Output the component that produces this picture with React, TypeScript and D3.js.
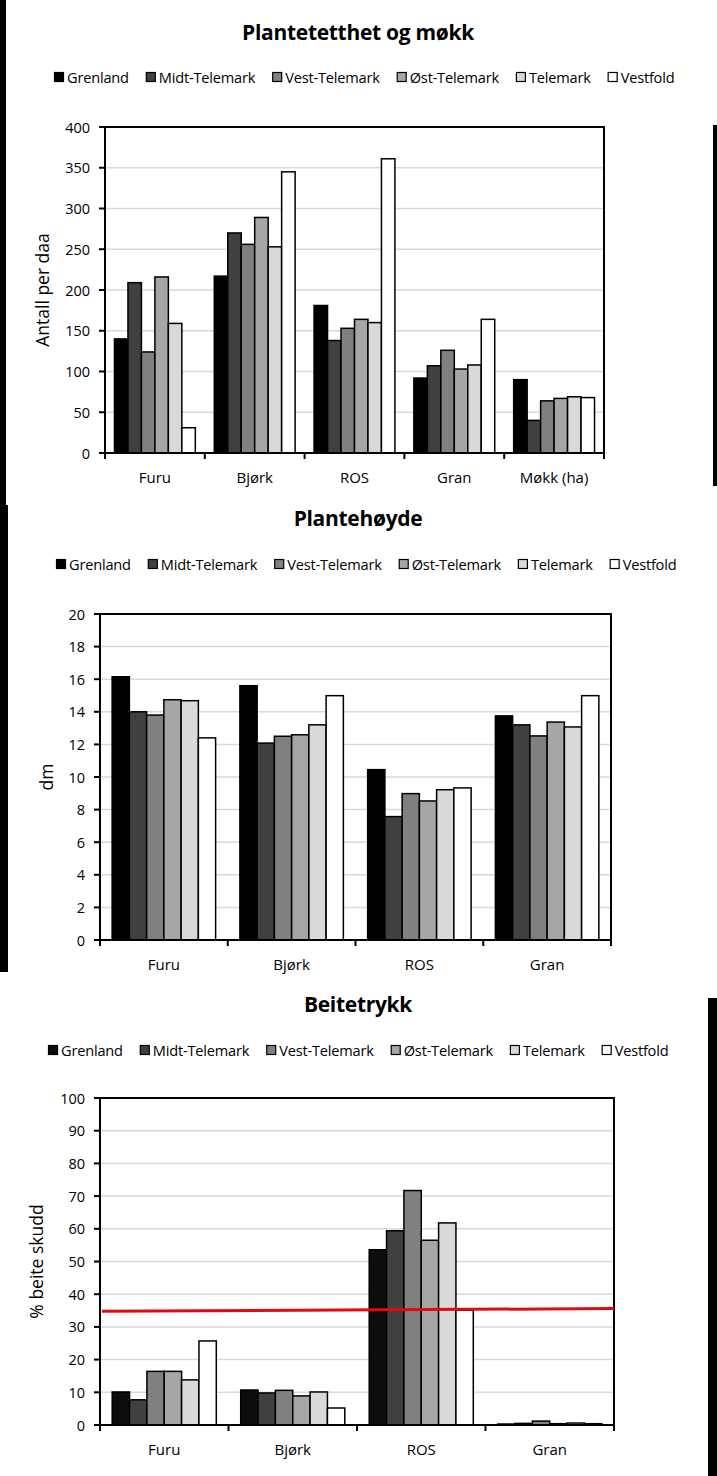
import React, { useEffect, useRef } from "react";
import * as d3 from "d3";

// ---------- data ----------
const seriesNames = ["Grenland", "Midt-Telemark", "Vest-Telemark", "Øst-Telemark", "Telemark", "Vestfold"];
const seriesColors = ["#000000", "#404040", "#808080", "#a6a6a6", "#d9d9d9", "#ffffff"];
const seriesColorsBeite = ["#0d0d0d", "#404040", "#808080", "#a6a6a6", "#d9d9d9", "#ffffff"];

const densityCategories = ["Furu", "Bjørk", "ROS", "Gran", "Møkk (ha)"];
const densityTicks = [0, 50, 100, 150, 200, 250, 300, 350, 400];
const densityGrenland = [140, 217, 181, 92, 90];
const densityMidt = [209, 270, 138, 107, 40];
const densityVest = [124, 256, 153, 126, 64];
const densityOst = [216, 289, 164, 103, 67];
const densityTelemark = [159, 253, 160, 108, 69];
const densityVestfold = [31, 345, 361, 164, 68];

const heightCategories = ["Furu", "Bjørk", "ROS", "Gran"];
const heightTicks = [0, 2, 4, 6, 8, 10, 12, 14, 16, 18, 20];
const heightGrenland = [16.15, 15.6, 10.45, 13.75];
const heightMidt = [14.0, 12.08, 7.57, 13.2];
const heightVest = [13.8, 12.5, 8.98, 12.52];
const heightOst = [14.74, 12.59, 8.53, 13.37];
const heightTelemark = [14.68, 13.2, 9.22, 13.07];
const heightVestfold = [12.4, 14.99, 9.33, 14.99];

const browseCategories = ["Furu", "Bjørk", "ROS", "Gran"];
const browseTicks = [0, 10, 20, 30, 40, 50, 60, 70, 80, 90, 100];
const browseGrenland = [10.1, 10.7, 53.6, 0.3];
const browseMidt = [7.7, 9.8, 59.4, 0.5];
const browseVest = [16.4, 10.6, 71.7, 1.2];
const browseOst = [16.4, 8.9, 56.5, 0.4];
const browseTelemark = [13.8, 10.1, 61.8, 0.6];
const browseVestfold = [25.7, 5.2, 35.1, 0.4];
const browseThreshold = [34.8, 35.6];

const FONT = "'Open Sans', 'DejaVu Sans', sans-serif";

type ChartCfg = {
  title: string;
  titleY: number;
  legendY: number;
  legendX: number;
  yLabel: string;
  yLabelX: number;
  left: number;
  right: number;
  top: number;
  bottom: number;
  max: number;
  ticks: number[];
  categories: string[];
  series: number[][];
  colors: string[];
  threshold?: number[];
};

function drawChart(svg: d3.Selection<SVGSVGElement, unknown, null, undefined>, c: ChartCfg) {
  const g = svg.append("g");
  g.append("text")
    .attr("x", 358)
    .attr("y", c.titleY)
    .attr("text-anchor", "middle")
    .attr("dominant-baseline", "central")
    .attr("font-family", FONT)
    .attr("font-weight", 700)
    .attr("font-size", 21)
    .attr("letter-spacing", -0.3)
    .attr("fill", "#000")
    .text(c.title);

  // legend
  let lx = c.legendX;
  seriesNames.forEach((name, i) => {
    g.append("rect")
      .attr("x", lx + 0.5)
      .attr("y", c.legendY - 4.5)
      .attr("width", 9)
      .attr("height", 9)
      .attr("fill", c.colors[i])
      .attr("stroke", "#000")
      .attr("stroke-width", 1.2);
    const t = g.append("text")
      .attr("x", lx + 13)
      .attr("y", c.legendY)
      .attr("dominant-baseline", "central")
      .attr("font-family", FONT)
      .attr("font-size", 14.6)
      .attr("letter-spacing", -0.2)
      .attr("fill", "#000")
      .text(name);
    const w = (t.node() as SVGTextElement).getComputedTextLength();
    lx += 13 + w + 17;
  });

  const y = d3.scaleLinear().domain([0, c.max]).range([c.bottom, c.top]);
  const x0 = d3.scaleBand<string>().domain(c.categories).range([c.left, c.right]).padding(0);
  const bw = x0.bandwidth();
  const x1 = d3.scaleBand<string>().domain(seriesNames).range([bw * 0.095, bw * 0.905]).padding(0);

  // gridlines
  g.append("g")
    .selectAll("line")
    .data(c.ticks.filter((t) => t > 0 && t < c.max))
    .join("line")
    .attr("x1", c.left)
    .attr("x2", c.right)
    .attr("y1", (d) => y(d))
    .attr("y2", (d) => y(d))
    .attr("stroke", "#d9d9d9")
    .attr("stroke-width", 1.5);

  // bars
  c.categories.forEach((cat, ci) => {
    seriesNames.forEach((s, si) => {
      const v = c.series[si][ci];
      g.append("rect")
        .attr("x", (x0(cat) as number) + (x1(s) as number))
        .attr("y", y(v))
        .attr("width", x1.bandwidth())
        .attr("height", c.bottom - y(v))
        .attr("fill", c.colors[si])
        .attr("stroke", "#000")
        .attr("stroke-width", 1.5);
    });
  });

  // frame
  g.append("rect")
    .attr("x", c.left)
    .attr("y", c.top)
    .attr("width", c.right - c.left)
    .attr("height", c.bottom - c.top)
    .attr("fill", "none")
    .attr("stroke", "#000")
    .attr("stroke-width", 2);

  // threshold
  if (c.threshold) {
    const tx = d3.scaleLinear().domain([0, c.threshold.length - 1]).range([c.left + 2, c.right]);
    const line = d3.line<number>().x((_, i) => tx(i)).y((d) => y(d));
    g.append("path")
      .attr("d", line(c.threshold) as string)
      .attr("fill", "none")
      .attr("stroke", "#e30613")
      .attr("stroke-width", 3);
  }

  // y ticks
  const yAxis = g.append("g");
  c.ticks.forEach((t) => {
    yAxis.append("line")
      .attr("x1", c.left - 6)
      .attr("x2", c.left)
      .attr("y1", y(t))
      .attr("y2", y(t))
      .attr("stroke", "#000")
      .attr("stroke-width", 2);
    yAxis.append("text")
      .attr("x", c.left - 15)
      .attr("y", y(t))
      .attr("text-anchor", "end")
      .attr("dominant-baseline", "central")
      .attr("font-family", FONT)
      .attr("font-size", 14.5)
      .attr("fill", "#000")
      .text(String(t));
  });

  // x ticks at category boundaries
  const bounds = c.categories.map((cat) => x0(cat) as number).concat([c.right]);
  bounds.forEach((bx) => {
    g.append("line")
      .attr("x1", bx)
      .attr("x2", bx)
      .attr("y1", c.bottom)
      .attr("y2", c.bottom + 6)
      .attr("stroke", "#000")
      .attr("stroke-width", 2);
  });
  c.categories.forEach((cat) => {
    g.append("text")
      .attr("x", (x0(cat) as number) + bw / 2)
      .attr("y", c.bottom + 24)
      .attr("text-anchor", "middle")
      .attr("dominant-baseline", "central")
      .attr("font-family", FONT)
      .attr("font-size", 15)
      .attr("fill", "#000")
      .text(cat);
  });

  // y label
  const my = (c.top + c.bottom) / 2;
  g.append("text")
    .attr("transform", `translate(${c.yLabelX},${my}) rotate(-90)`)
    .attr("text-anchor", "middle")
    .attr("dominant-baseline", "central")
    .attr("font-family", FONT)
    .attr("font-size", 17.5)
    .attr("fill", "#000")
    .text(c.yLabel);
}

export default function App() {
  const ref = useRef<SVGSVGElement>(null);
  useEffect(() => {
    const svg = d3.select(ref.current as SVGSVGElement);
    svg.selectAll("*").remove();
    svg.append("rect").attr("width", 717).attr("height", 1476).attr("fill", "#fff");

    drawChart(svg, {
      title: "Plantetetthet og møkk",
      titleY: 32,
      legendY: 77,
      legendX: 54,
      yLabel: "Antall per daa",
      yLabelX: 42,
      left: 105,
      right: 604,
      top: 127,
      bottom: 453,
      max: 400,
      ticks: densityTicks,
      categories: densityCategories,
      series: [densityGrenland, densityMidt, densityVest, densityOst, densityTelemark, densityVestfold],
      colors: seriesColors,
    });

    drawChart(svg, {
      title: "Plantehøyde",
      titleY: 518,
      legendY: 564,
      legendX: 56,
      yLabel: "dm",
      yLabelX: 46,
      left: 100,
      right: 611,
      top: 614,
      bottom: 940,
      max: 20,
      ticks: heightTicks,
      categories: heightCategories,
      series: [heightGrenland, heightMidt, heightVest, heightOst, heightTelemark, heightVestfold],
      colors: seriesColors,
    });

    drawChart(svg, {
      title: "Beitetrykk",
      titleY: 1004,
      legendY: 1050,
      legendX: 48,
      yLabel: "% beite skudd",
      yLabelX: 36,
      left: 100,
      right: 614,
      top: 1098,
      bottom: 1425,
      max: 100,
      ticks: browseTicks,
      categories: browseCategories,
      series: [browseGrenland, browseMidt, browseVest, browseOst, browseTelemark, browseVestfold],
      colors: seriesColorsBeite,
      threshold: browseThreshold,
    });

    // black edge strips from the page composition
    const strips = [
      [0, 0, 6, 505],
      [713, 125, 4, 361],
      [0, 505, 8, 467],
      [708, 998, 9, 478],
    ];
    svg.append("g")
      .selectAll("rect")
      .data(strips)
      .join("rect")
      .attr("x", (d) => d[0])
      .attr("y", (d) => d[1])
      .attr("width", (d) => d[2])
      .attr("height", (d) => d[3])
      .attr("fill", "#000");
  }, []);

  return (
    <svg
      ref={ref}
      width={717}
      height={1476}
      style={{ position: "absolute", left: 0, top: 0, display: "block" }}
    />
  );
}
